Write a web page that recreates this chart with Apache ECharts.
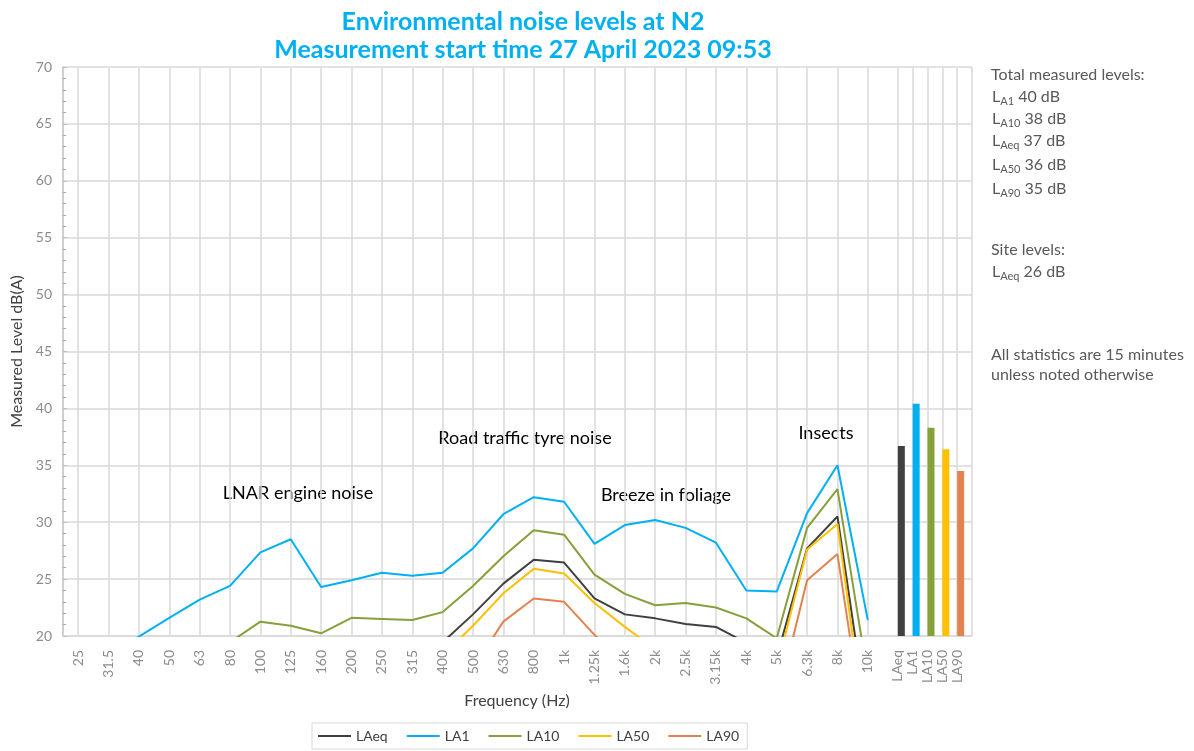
<!DOCTYPE html>
<html><head><meta charset="utf-8">
<script src="https://cdn.jsdelivr.net/npm/echarts@6/dist/echarts.min.js"></script>
<style>html,body{margin:0;padding:0;background:#fff}#c{width:1194px;height:751px}</style>
</head><body><div id="c"></div>
<script>
// ---- data ----
const freqLabels = ['25','31.5','40','50','63','80','100','125','160','200','250','315','400','500','630','800','1k','1.25k','1.6k','2k','2.5k','3.15k','4k','5k','6.3k','8k','10k'];
const LAeq = [13.5,14.2,15.0,15.8,16.4,17.0,18.2,18.6,17.8,18.4,18.7,18.9,19.45,21.9,24.6,26.7,26.45,23.3,21.9,21.55,21.05,20.8,19.4,18.1,27.7,30.5,12.4];
const LA1  = [16.5,18.3,19.95,21.6,23.2,24.4,27.35,28.5,24.3,24.9,25.55,25.3,25.55,27.7,30.7,32.2,31.8,28.1,29.75,30.2,29.5,28.2,24.0,23.9,30.8,35.0,21.4];
const LA10 = [15.0,16.0,17.0,18.0,18.8,19.46,21.26,20.9,20.24,21.6,21.5,21.4,22.1,24.4,27.0,29.3,28.9,25.4,23.7,22.7,22.9,22.5,21.55,19.8,29.5,32.9,16.4];
const LA50 = [10.0,11.0,12.0,13.0,13.5,14.0,15.0,15.5,15.0,16.0,16.3,16.6,18.3,20.9,23.75,25.9,25.5,22.9,20.8,18.85,18.6,18.3,17.8,17.2,27.6,29.85,10.2];
const LA90 = [8.0,9.0,10.0,11.0,11.5,12.0,13.0,13.5,13.0,14.0,14.3,14.6,15.5,17.2,21.26,23.3,23.0,20.1,17.5,16.8,16.5,16.2,15.6,14.0,24.9,27.2,9.6];
const totalLabels = ['','LAeq','LA1','LA10','LA50','LA90',''];
const totalValues = ['-',36.7,40.4,38.3,36.4,34.5,'-'];
const yTicks = {min:20, max:70, interval:5};

// ---- styles ----
const FONT = 'Lato';
const colors = {LAeq:'#404040', LA1:'#00B0F0', LA10:'#86A03B', LA50:'#FFC000', LA90:'#E2834F'};
const barColors = [null, colors.LAeq, colors.LA1, colors.LA10, colors.LA50, colors.LA90, null];
const gridColor = '#d9d9d9';

const lineSeries = [['LAeq',LAeq],['LA1',LA1],['LA10',LA10],['LA50',LA50],['LA90',LA90]].map(([n,d]) => ({
  name:n, type:'line', xAxisIndex:0, yAxisIndex:0, data:d, showSymbol:false, symbol:'none',
  clip:true, lineStyle:{width:2, color:colors[n]}, itemStyle:{color:colors[n]}, animation:false
}));

const subLine = (sub, val) => ({
  text: '{n|L}{s|' + sub + '}{n| ' + val + '}',
  verticalAlign:'middle',
  rich: {
    n: {fontFamily: FONT, fontSize: 16, lineHeight: 20, fill: '#595959', color:'#595959', verticalAlign:'middle'},
    s: {fontFamily: FONT, fontSize: 11, lineHeight: 20, fill: '#595959', color:'#595959', verticalAlign:'bottom'}
  }
});

const panelX = 991;
const plain = (t) => ({text:t, font:'16px '+FONT, fill:'#595959', verticalAlign:'middle'});
const note = (t) => ({text:t, font:'18px '+FONT, fill:'#000', align:'center', verticalAlign:'middle'});
const graphics = [
  {type:'text', x:panelX, y:75, style:plain('Total measured levels:')},
  {type:'text', x:panelX+1, y:97, style:subLine('A1','40 dB')},
  {type:'text', x:panelX+1, y:119, style:subLine('A10','38 dB')},
  {type:'text', x:panelX+1, y:141, style:subLine('Aeq','37 dB')},
  {type:'text', x:panelX+1, y:165, style:subLine('A50','36 dB')},
  {type:'text', x:panelX+1, y:189, style:subLine('A90','35 dB')},
  {type:'text', x:panelX, y:250, style:plain('Site levels:')},
  {type:'text', x:panelX+1, y:272, style:subLine('Aeq','26 dB')},
  {type:'text', x:panelX, y:355, style:plain('All statistics are 15 minutes')},
  {type:'text', x:panelX, y:375, style:plain('unless noted otherwise')},
  {type:'text', x:298, y:493, style:note('LNAR engine noise')},
  {type:'text', x:525, y:438, style:note('Road traffic tyre noise')},
  {type:'text', x:666, y:495, style:note('Breeze in foliage')},
  {type:'text', x:826, y:433, style:note('Insects')}
];

const chart = echarts.init(document.getElementById('c'), null, {renderer:'canvas'});
chart.setOption({
  animation:false,
  backgroundColor:'#fff',
  title:{
    text:'Environmental noise levels at N2\nMeasurement start time 27 April 2023 09:53',
    left:518, top:3, textAlign:'center',
    textStyle:{fontFamily:FONT, fontWeight:'bold', fontSize:25, lineHeight:28, color:'#00B0F0'}
  },
  legend:{
    data:['LAeq','LA1','LA10','LA50','LA90'],
    left:312, top:723, icon:'rect', itemWidth:33, itemHeight:2, itemGap:19,
    padding:[6,8,6,6], borderColor:gridColor, borderWidth:1,
    textStyle:{fontFamily:FONT, fontSize:14, color:'#404040'}
  },
  grid:[
    {left:63, top:67, width:820, bottom:115},
    {left:883, top:67, width:89, bottom:115}
  ],
  xAxis:[
    {gridIndex:0, type:'category', data:freqLabels, boundaryGap:true,
     axisLine:{show:true, lineStyle:{color:gridColor, width:1.5}},
     axisTick:{show:false},
     axisLabel:{interval:0, rotate:90, color:'#8c8c8c', fontFamily:FONT, fontSize:14, margin:14},
     splitLine:{show:true, interval:0, alignWithLabel:true, lineStyle:{color:gridColor, width:1.5}},
     name:'Frequency (Hz)', nameLocation:'middle', nameGap:50,
     nameTextStyle:{fontFamily:FONT, fontSize:16, color:'#404040', padding:[0,0,0,88]}
    },
    {gridIndex:1, type:'category', data:totalLabels, boundaryGap:false,
     axisLine:{show:true, lineStyle:{color:gridColor, width:1.5}},
     axisTick:{show:false},
     axisLabel:{interval:0, rotate:90, color:'#8c8c8c', fontFamily:FONT, fontSize:14, margin:14},
     splitLine:{show:true, interval:function(i){return i>0;}, lineStyle:{color:gridColor, width:1.5}}
    }
  ],
  yAxis:[
    {gridIndex:0, type:'value', min:yTicks.min, max:yTicks.max, interval:yTicks.interval,
     axisLine:{show:true, lineStyle:{color:'#bfbfbf', width:1.5}},
     axisTick:{show:true, inside:true, length:4, lineStyle:{color:'#bfbfbf'}},
     minorTick:{show:true, splitNumber:5, length:3, lineStyle:{color:'#a6a6a6'}},
     axisLabel:{color:'#8c8c8c', fontFamily:FONT, fontSize:14, margin:11},
     splitLine:{show:true, lineStyle:{color:gridColor, width:1.5}},
     name:'Measured Level dB(A)', nameLocation:'middle', nameGap:38,
     nameTextStyle:{fontFamily:FONT, fontSize:16, color:'#404040'}
    },
    {gridIndex:1, type:'value', min:yTicks.min, max:yTicks.max, interval:yTicks.interval,
     axisLine:{show:false}, axisTick:{show:false}, axisLabel:{show:false},
     splitLine:{show:true, lineStyle:{color:gridColor, width:1.5}}
    }
  ],
  series: lineSeries.concat([
    {name:'_gap', type:'bar', xAxisIndex:1, yAxisIndex:1, data:totalLabels.map(()=> '-'), barWidth:7, barGap:'0%'},
    {name:'Totals', type:'bar', xAxisIndex:1, yAxisIndex:1, barWidth:7, barGap:'0%',
     data: totalValues.map((v,i) => v === '-' ? '-' : {value:v, itemStyle:{color:barColors[i]}})}
  ]),
  graphic: graphics
});
</script>
</body></html>
